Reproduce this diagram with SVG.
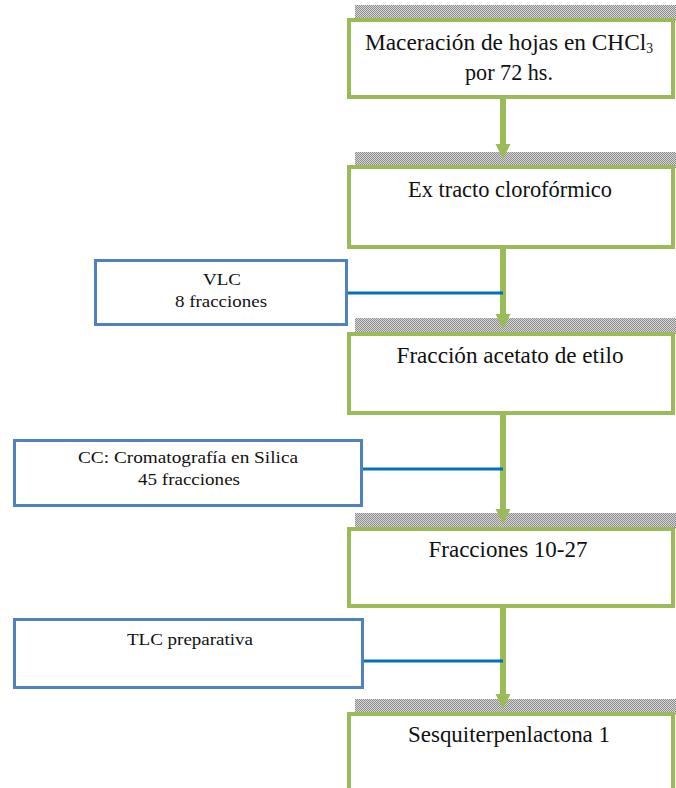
<svg xmlns="http://www.w3.org/2000/svg" width="676" height="788" viewBox="0 0 676 788">
<style>
.main{fill:#fff;stroke:#9bbb59;stroke-width:4}
.side{fill:#fff;stroke:#4f81bd;stroke-width:3}
.flow{stroke:#9bbb59;stroke-width:6;fill:none}
.head{fill:#9bbb59}
.blue{stroke:#0070c0;stroke-width:3;fill:none}
.band{fill:url(#hatch)}
</style>
<defs>
<pattern id="hatch" width="2" height="2" patternUnits="userSpaceOnUse">
<rect width="2" height="2" fill="#d4d4d4"/>
<rect width="1" height="1" fill="#8f8f8f"/>
<rect x="1" y="1" width="1" height="1" fill="#8f8f8f"/>
</pattern>
</defs>
<rect width="676" height="788" fill="#fff"/>
<g id="bands">
<rect class="band" x="355" y="5" width="321" height="16"/>
<rect class="band" x="355" y="152" width="321" height="16"/>
<rect class="band" x="355" y="318" width="321" height="16"/>
<rect class="band" x="355" y="513" width="321" height="16"/>
<rect class="band" x="355" y="699" width="321" height="16"/>
</g>
<g id="connectors">
<line class="flow" x1="503" y1="99" x2="503" y2="146"/>
<polygon class="head" points="495.5,144 510.5,144 503,159"/>
<line class="flow" x1="503" y1="249" x2="503" y2="316"/>
<polygon class="head" points="495.5,314 510.5,314 503,329"/>
<line class="flow" x1="503" y1="415" x2="503" y2="511"/>
<polygon class="head" points="495.5,509 510.5,509 503,524"/>
<line class="flow" x1="503" y1="608" x2="503" y2="696"/>
<polygon class="head" points="495.5,694 510.5,694 503,709"/>
<line class="blue" x1="347" y1="293" x2="503" y2="293"/>
<line class="blue" x1="362" y1="469" x2="503" y2="469"/>
<line class="blue" x1="363" y1="661" x2="503" y2="661"/>
</g>
<g font-family="Liberation Serif, Times New Roman, serif" fill="#111" text-anchor="middle">
<g id="n1">
<rect class="main" x="349" y="20" width="324" height="77"/>
<text x="509" y="50" font-size="24" textLength="288" lengthAdjust="spacingAndGlyphs">Maceración de hojas en CHCl<tspan font-size="14" dy="3">3</tspan></text>
<text x="509" y="80" font-size="24" textLength="88" lengthAdjust="spacingAndGlyphs">por 72 hs.</text>
</g>
<g id="n2">
<rect class="main" x="349" y="167" width="324" height="80"/>
<text x="510" y="197" font-size="24" textLength="204" lengthAdjust="spacingAndGlyphs">Ex tracto clorofórmico</text>
</g>
<g id="n3">
<rect class="main" x="349" y="334" width="324" height="79"/>
<text x="510" y="363" font-size="24" textLength="227" lengthAdjust="spacingAndGlyphs">Fracción acetato de etilo</text>
</g>
<g id="n4">
<rect class="main" x="349" y="529" width="324" height="77"/>
<text x="508" y="557" font-size="24" textLength="159" lengthAdjust="spacingAndGlyphs">Fracciones 10-27</text>
</g>
<g id="n5">
<rect class="main" x="349" y="714" width="324" height="100"/>
<text x="509" y="742" font-size="24" textLength="202" lengthAdjust="spacingAndGlyphs">Sesquiterpenlactona 1</text>
</g>
<g id="vlc">
<rect class="side" x="95.5" y="260.5" width="251" height="64"/>
<text x="222" y="285" font-size="17" textLength="38" lengthAdjust="spacingAndGlyphs">VLC</text>
<text x="221" y="307" font-size="17" textLength="92" lengthAdjust="spacingAndGlyphs">8 fracciones</text>
</g>
<g id="cc">
<rect class="side" x="14.5" y="440.5" width="347" height="65"/>
<text x="188" y="463" font-size="17" textLength="220" lengthAdjust="spacingAndGlyphs">CC: Cromatografía en Silica</text>
<text x="189" y="485" font-size="17" textLength="102" lengthAdjust="spacingAndGlyphs">45 fracciones</text>
</g>
<g id="tlc">
<rect class="side" x="14.5" y="619.5" width="348" height="68"/>
<text x="190" y="645" font-size="17" textLength="126" lengthAdjust="spacingAndGlyphs">TLC preparativa</text>
</g>
</g>
</svg>
